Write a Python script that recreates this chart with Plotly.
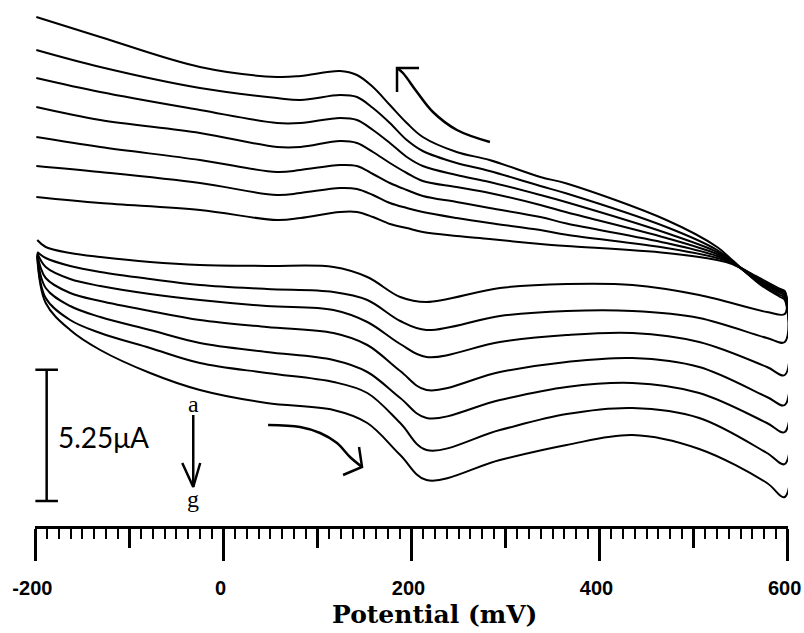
import plotly.graph_objects as go

# ---------------- data (potential in mV, current in microampere) ----------------
potential_fwd = [-198, -189, -163, -131, -78, -25, 46, 117, 153, 188, 216, 294, 365, 435, 506, 578, 597]
potential_rev = [597, 592, 570, 541, 525, 471, 365, 337, 283, 248, 212, 195, 177, 159, 142, 124, 82, 57, -25, -131, -199]

fwd_a = [11.44, 11.16, 10.92, 10.76, 10.56, 10.44, 10.40, 10.36, 9.96, 9.16, 8.96, 9.52, 9.68, 9.64, 9.24, 8.56, 8.48]
fwd_b = [10.96, 10.72, 10.40, 10.16, 9.88, 9.64, 9.48, 9.36, 9.04, 8.20, 7.84, 8.40, 8.60, 8.60, 8.32, 7.52, 7.36]
fwd_c = [10.92, 10.36, 9.88, 9.60, 9.28, 9.04, 8.80, 8.64, 8.16, 7.28, 6.76, 7.36, 7.64, 7.72, 7.36, 6.36, 6.04]
fwd_d = [10.88, 9.92, 9.32, 9.00, 8.60, 8.24, 7.96, 7.72, 7.24, 6.20, 5.44, 6.16, 6.56, 6.72, 6.36, 5.16, 4.84]
fwd_e = [10.84, 9.52, 8.80, 8.36, 7.84, 7.32, 6.96, 6.64, 6.16, 5.12, 4.32, 5.04, 5.56, 5.72, 5.32, 4.12, 3.76]
fwd_f = [10.80, 9.12, 8.24, 7.72, 7.12, 6.52, 6.12, 5.76, 5.32, 4.12, 3.04, 3.84, 4.48, 4.72, 4.32, 2.92, 2.48]
fwd_g = [10.76, 8.92, 7.84, 7.04, 6.12, 5.44, 4.92, 4.64, 4.12, 2.84, 1.84, 2.64, 3.24, 3.64, 3.08, 1.72, 1.16]

rev_a = [9.40, 9.48, 9.92, 10.48, 10.64, 10.92, 11.20, 11.28, 11.48, 11.60, 11.76, 11.92, 12.08, 12.36, 12.56, 12.56, 12.32, 12.24, 12.64, 12.92, 13.16]
rev_b = [9.36, 9.44, 9.88, 10.52, 10.72, 11.12, 11.65, 11.84, 12.12, 12.32, 12.56, 12.72, 12.92, 13.24, 13.48, 13.52, 13.32, 13.24, 13.72, 14.16, 14.40]
rev_c = [9.32, 9.40, 9.84, 10.52, 10.80, 11.32, 12.10, 12.36, 12.72, 12.96, 13.20, 13.44, 13.72, 14.08, 14.40, 14.44, 14.24, 14.16, 14.64, 15.16, 15.56]
rev_d = [9.28, 9.36, 9.80, 10.56, 10.88, 11.52, 12.55, 12.84, 13.32, 13.56, 13.80, 14.12, 14.52, 14.96, 15.32, 15.40, 15.16, 15.16, 15.72, 16.24, 16.76]
rev_e = [9.20, 9.32, 9.76, 10.56, 10.96, 11.72, 12.95, 13.24, 13.76, 14.04, 14.40, 14.76, 15.32, 15.84, 16.24, 16.32, 16.12, 16.12, 16.64, 17.36, 17.92]
rev_f = [9.12, 9.24, 9.72, 10.60, 11.04, 11.96, 13.30, 13.60, 14.20, 14.52, 15.00, 15.44, 16.12, 16.72, 17.16, 17.24, 17.04, 17.12, 17.52, 18.36, 19.04]
rev_g = [9.04, 9.16, 9.68, 10.64, 11.16, 12.24, 13.70, 13.96, 14.64, 14.96, 15.56, 16.12, 16.84, 17.56, 18.04, 18.20, 18.00, 17.96, 18.36, 19.56, 20.36]

curve_labels = ["a", "b", "c", "d", "e", "f", "g"]
fwd_currents = [fwd_a, fwd_b, fwd_c, fwd_d, fwd_e, fwd_f, fwd_g]
rev_currents = [rev_a, rev_b, rev_c, rev_d, rev_e, rev_f, rev_g]

tick_values = [-200, 0, 200, 400, 600]
tick_labels = ["-200", "0", "200", "400", "600"]
mid_tick_values = [-100, 100, 300, 500]

scale_bar_ua = 5.25
scale_bar_base = 1.0
scale_bar_text = "5.25\u03bcA"

# decorative arrows (in data coordinates)
arrow_top_x = [283.4, 248.3, 222.8, 205.8, 190.9, 184.6]
arrow_top_y = [15.36, 15.84, 16.56, 17.36, 18.12, 18.32]
arrow_top_head_x = [208.0, 184.6, 184.6]
arrow_top_head_y = [18.32, 18.32, 17.36]
arrow_bot_x = [47.5, 81.5, 102.8, 120.8, 134.6, 147.4]
arrow_bot_y = [4.04, 3.96, 3.72, 3.32, 2.76, 2.36]
arrow_bot_head_x = [127.2, 147.4, 144.2]
arrow_bot_head_y = [2.04, 2.36, 3.16]
arrow_ag_x = [-32.1, -32.1]
arrow_ag_y = [4.44, 1.56]
arrow_ag_head_x = [-43.8, -32.1, -24.7]
arrow_ag_head_y = [2.52, 1.56, 2.52]

fig = go.Figure()

for lab, f, r in zip(curve_labels, fwd_currents, rev_currents):
    fig.add_trace(go.Scatter(
        x=potential_fwd + potential_rev, y=f + r, mode="lines", name=lab,
        line=dict(color="black", width=2, shape="spline", smoothing=1.0),
        showlegend=False, hoverinfo="skip"))

# scale bar
sb_top = scale_bar_base + scale_bar_ua
fig.add_trace(go.Scatter(
    x=[-200, -176, None, -188, -188, None, -200, -176],
    y=[sb_top, sb_top, None, sb_top, scale_bar_base, None, scale_bar_base, scale_bar_base],
    mode="lines", line=dict(color="black", width=2.5), xaxis="x2", yaxis="y",
    showlegend=False, hoverinfo="skip"))

for ax_, ay_, shp in [(arrow_top_x, arrow_top_y, "spline"), (arrow_top_head_x, arrow_top_head_y, "linear"),
                      (arrow_bot_x, arrow_bot_y, "spline"), (arrow_bot_head_x, arrow_bot_head_y, "linear"),
                      (arrow_ag_x, arrow_ag_y, "linear"), (arrow_ag_head_x, arrow_ag_head_y, "linear")]:
    fig.add_trace(go.Scatter(
        x=ax_, y=ay_, mode="lines", line=dict(color="black", width=2.5, shape=shp),
        xaxis="x2", yaxis="y", showlegend=False, hoverinfo="skip"))

fig.update_layout(
    width=804, height=633,
    margin=dict(l=35, r=16, t=0, b=107, pad=0),
    paper_bgcolor="white", plot_bgcolor="white",
    showlegend=False,
    xaxis=dict(
        range=[-200.4, 600.4], showgrid=False, zeroline=False,
        showline=True, linecolor="black", linewidth=2.5,
        ticks="outside", tickvals=tick_values, ticktext=tick_labels,
        ticklen=32, tickwidth=3, tickcolor="black",
        tickfont=dict(family="Liberation Sans", size=20, color="black", weight="bold"),
        ticklabelstandoff=10, ticklabeloverflow="allow", ticklabelshift=-3,
        minor=dict(dtick=12.5, tick0=-200, ticks="outside", ticklen=10,
                   tickwidth=2, tickcolor="black", showgrid=False),
    ),
    xaxis2=dict(
        overlaying="x", anchor="y", side="bottom", range=[-200.4, 600.4],
        showgrid=False, zeroline=False, showline=False,
        ticks="outside", tickvals=mid_tick_values, ticklen=21, tickwidth=2.5,
        tickcolor="black", showticklabels=False,
    ),
    yaxis=dict(range=[0, 21.04], visible=False, showgrid=False, zeroline=False),
    annotations=[
        dict(text="Potential (mV)", xref="paper", yref="paper", x=0.531, y=-0.168,
             xanchor="center", yanchor="middle", showarrow=False,
             font=dict(family="DejaVu Serif", size=25, color="black", weight="bold")),
        dict(text=scale_bar_text, xref="x", yref="y", x=-178, y=3.56,
             xanchor="left", yanchor="middle", showarrow=False,
             font=dict(family="Lato", size=28, color="black")),
        dict(text="a", xref="x", yref="y", x=-32.1, y=4.9,
             xanchor="center", yanchor="middle", showarrow=False,
             font=dict(family="Liberation Serif", size=24, color="black")),
        dict(text="g", xref="x", yref="y", x=-32.1, y=1.1,
             xanchor="center", yanchor="middle", showarrow=False,
             font=dict(family="Liberation Serif", size=24, color="black")),
    ],
)

fig.write_html("out.html", config={"displayModeBar": False},
               post_script="document.body.style.margin='0px';")
